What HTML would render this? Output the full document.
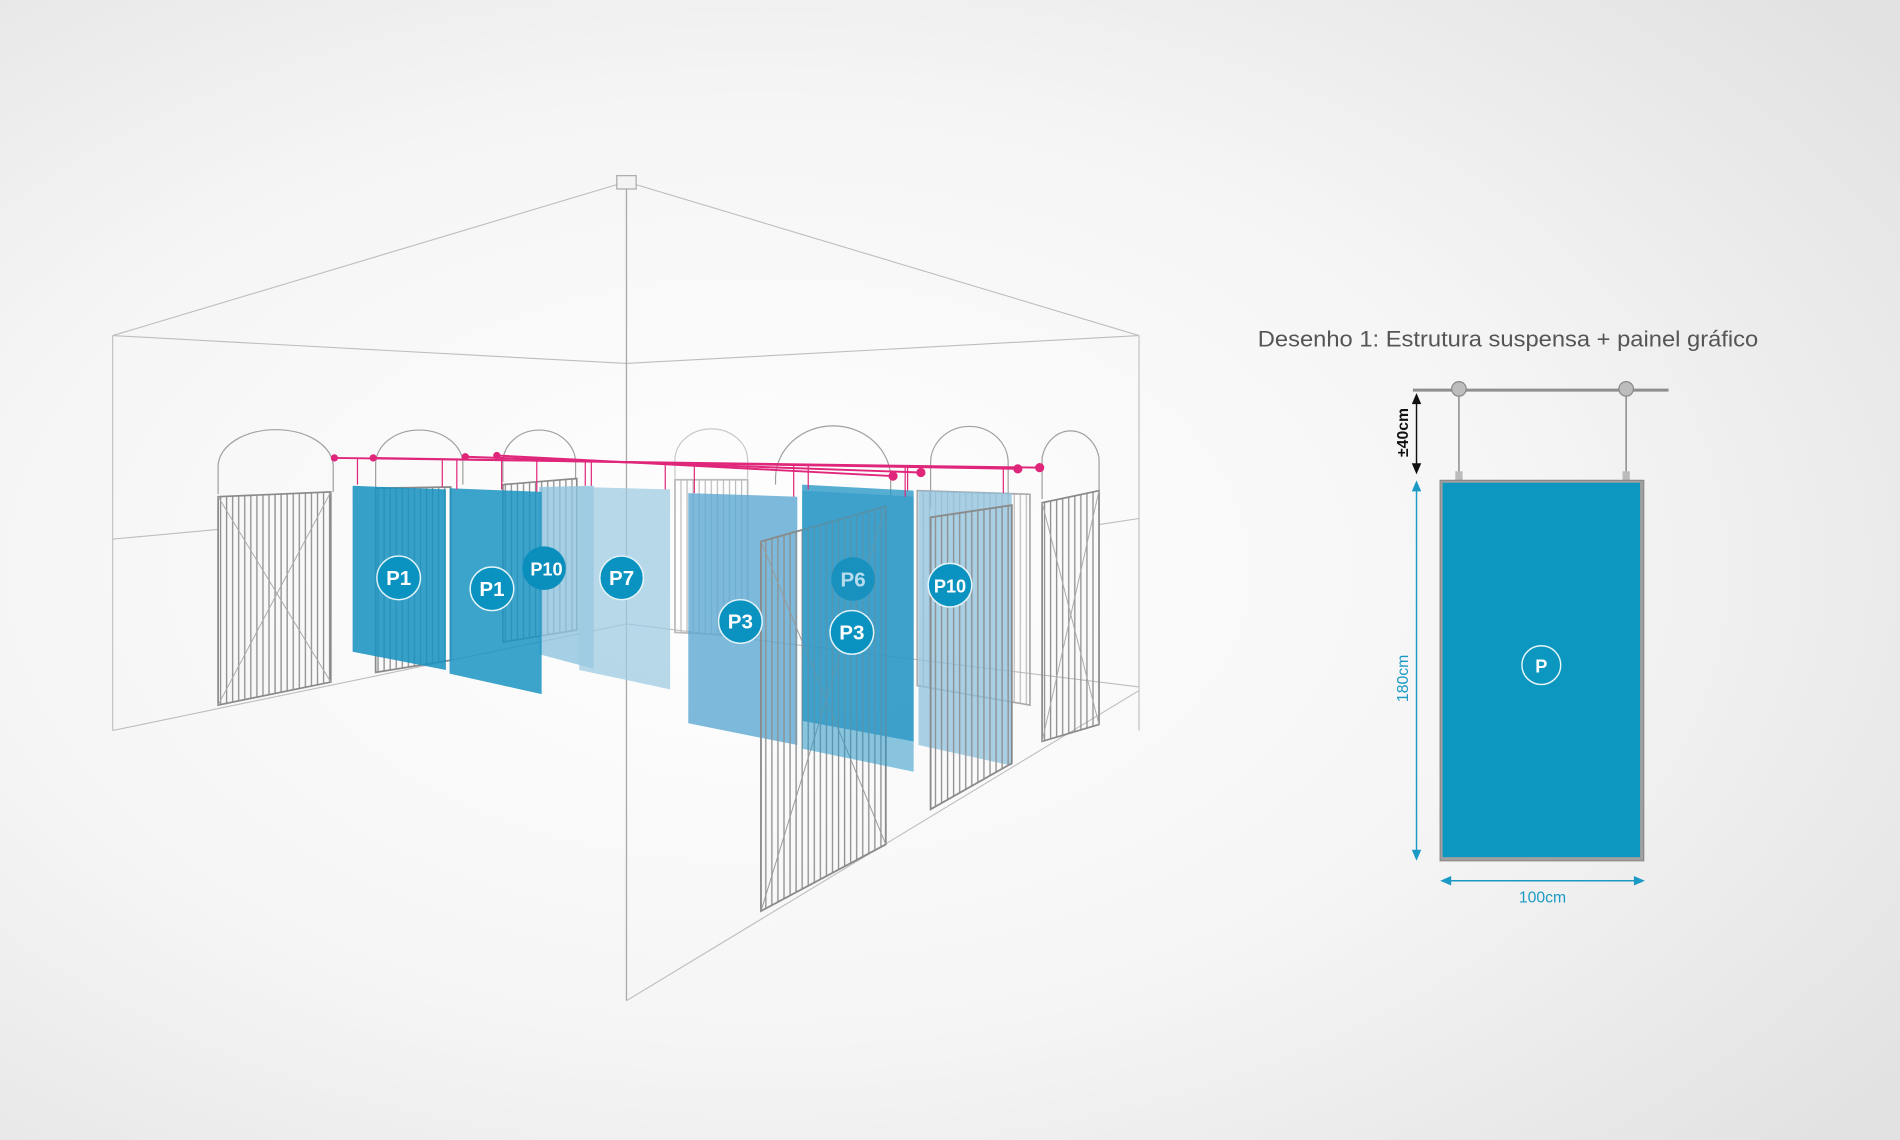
<!DOCTYPE html>
<html><head><meta charset="utf-8">
<style>
html,body{margin:0;padding:0;width:1900px;height:1140px;overflow:hidden;background:#eaeaea;}
svg{display:block}
</style></head><body>
<svg width="1900" height="1140" viewBox="0 0 1568 941" preserveAspectRatio="none" xmlns="http://www.w3.org/2000/svg" font-family="'Liberation Sans', sans-serif">
<defs>
<radialGradient id="bg" cx="0.4" cy="0.5" r="0.75">
<stop offset="0" stop-color="#ffffff"/><stop offset="0.55" stop-color="#f5f5f5"/><stop offset="1" stop-color="#e2e2e2"/>
</radialGradient>
<pattern id="bars" width="5" height="10" patternUnits="userSpaceOnUse">
<rect width="5" height="10" fill="none"/><line x1="2" y1="0" x2="2" y2="10" stroke="#8f8f8f" stroke-width="1.1"/>
</pattern>
<pattern id="barsL" width="5" height="10" patternUnits="userSpaceOnUse">
<line x1="2" y1="0" x2="2" y2="10" stroke="#bbbbbb" stroke-width="1"/>
</pattern>
</defs>
<rect width="1568" height="941" fill="url(#bg)"/>

<!-- room -->
<g stroke="#bdbdbd" stroke-width="0.9" fill="none">
<line x1="517" y1="150" x2="93" y2="277"/>
<line x1="517" y1="150" x2="940" y2="277"/>
<line x1="93" y1="277" x2="517" y2="300"/>
<line x1="517" y1="300" x2="940" y2="277"/>
<line x1="93" y1="277" x2="93" y2="603"/>
<line x1="940" y1="277" x2="940" y2="603"/>
<line x1="93" y1="603" x2="517" y2="515"/>
<line x1="517" y1="515" x2="940" y2="567"/>
<line x1="93" y1="445" x2="180" y2="437"/>
<line x1="517" y1="826" x2="940" y2="570"/>
<line x1="907" y1="433" x2="940" y2="428"/>
</g>
<line x1="517" y1="152" x2="517" y2="826" stroke="#aaaaaa" stroke-width="1.1"/>
<rect x="509" y="145" width="16" height="11" fill="#f3f3f3" stroke="#aaa" stroke-width="1"/>

<!-- arches -->
<g stroke="#a0a0a0" stroke-width="1" fill="none">
<path d="M180 408 L180 385 A47 30 0 0 1 275 385 L275 406"/>
<path d="M310 402 L310 383 A36 28 0 0 1 382 383 L382 400"/>
<path d="M415 398 L415 382 A30 27 0 0 1 475 382 L475 396"/>
<path d="M557 395 L557 380 A30 26 0 0 1 617 380 L617 395" stroke="#c8c8c8"/>
<path d="M640 400 L640 395 A47 43 0 0 1 735 395 L735 410"/>
<path d="M768 420 L768 382 A32 30 0 0 1 832 382 L832 410"/>
<path d="M860 412 L860 378 A24 28 0 0 1 907 378 L907 405"/>
</g>

<!-- back gates -->
<g stroke="#8a8a8a" stroke-width="1.4">
<polygon points="180,410 273,406 273,563 180,582" fill="url(#bars)"/>
<polygon points="310,403 372,402 372,545 310,555" fill="url(#bars)"/>
<polygon points="415,400 476,395 476,520 415,530" fill="url(#bars)"/>
<polygon points="557,396 617,396 617,525 557,522" fill="url(#barsL)" stroke="#bbb"/>
<polygon points="757,405 850,408 850,582 757,566" fill="url(#barsL)" stroke="#aaa"/>
<polygon points="860,415 907,405 907,598 860,612" fill="url(#bars)"/>
</g>
<g stroke="#aaa" stroke-width="0.8">
<line x1="180" y1="410" x2="273" y2="563"/><line x1="273" y1="406" x2="180" y2="582"/>
<line x1="860" y1="415" x2="907" y2="598"/><line x1="907" y1="405" x2="860" y2="612"/>
</g>

<!-- panels -->
<g>
<polygon points="445,402 490,401 490,552 445,540" fill="#8fc3dd" opacity="0.8"/>
<polygon points="478,402 553,404 553,569 478,553" fill="#9ecbe2" opacity="0.75"/>
<polygon points="291,401 368,404 368,553 291,538" fill="#1a93c2" opacity="0.88"/>
<polygon points="371,403 447,406 447,573 371,556" fill="#1a93c2" opacity="0.85"/>
<polygon points="758,405 835,407 835,632 758,615" fill="#8cc0dc" opacity="0.75"/>
<polygon points="662,400 754,405 754,612 662,595" fill="#2a98c6" opacity="0.8"/>
<polygon points="568,407 658,410 658,615 568,597" fill="#5fa9d2" opacity="0.82"/>
</g>

<!-- front gates -->
<g stroke="#8a8a8a" stroke-width="1.5">
<polygon points="628,447 731,418 731,697 628,752" fill="url(#bars)"/>
<polygon points="768,427 835,417 835,630 768,668" fill="url(#bars)"/>
</g>
<g stroke="#999" stroke-width="0.8">
<line x1="628" y1="447" x2="731" y2="697"/><line x1="731" y1="418" x2="628" y2="752"/>
</g>
<polygon points="662,405 754,410 754,637 662,618" fill="#2a98c6" opacity="0.55"/>

<!-- pink rails -->
<g stroke="#e0267a" stroke-width="1.6" fill="#e0267a">
<line x1="276" y1="378" x2="858" y2="386"/>
<line x1="308" y1="378" x2="840" y2="387"/>
<line x1="384" y1="377" x2="760" y2="390"/>
<line x1="410" y1="376" x2="737" y2="393"/>
<circle cx="276" cy="378" r="2.2"/><circle cx="308" cy="378" r="2.2"/>
<circle cx="384" cy="377" r="2.2"/><circle cx="410" cy="376" r="2.2"/>
<circle cx="858" cy="386" r="3"/><circle cx="840" cy="387" r="3"/>
<circle cx="760" cy="390" r="3"/><circle cx="737" cy="393" r="3"/>
</g>
<g stroke="#e0267a" stroke-width="1">
<line x1="295" y1="379" x2="295" y2="400"/><line x1="365" y1="380" x2="365" y2="402"/>
<line x1="377" y1="380" x2="377" y2="404"/><line x1="414" y1="378" x2="414" y2="404"/>
<line x1="443" y1="380" x2="443" y2="406"/><line x1="483" y1="381" x2="483" y2="401"/>
<line x1="488" y1="381" x2="488" y2="401"/><line x1="549" y1="382" x2="549" y2="404"/>
<line x1="573" y1="383" x2="573" y2="407"/><line x1="655" y1="384" x2="655" y2="410"/>
<line x1="667" y1="384" x2="667" y2="404"/><line x1="747" y1="386" x2="747" y2="410"/>
<line x1="749" y1="386" x2="749" y2="405"/><line x1="828" y1="387" x2="828" y2="407"/>
</g>

<!-- labels -->
<g font-family="'Liberation Sans', sans-serif" font-weight="bold" font-size="17" fill="#fff" text-anchor="middle">
<g stroke="#e6f4fa" stroke-width="1.2"><circle cx="329" cy="477" r="18" fill="#0a93c0"/><circle cx="406" cy="486" r="18" fill="#0a93c0"/>
<circle cx="513" cy="477" r="18" fill="#0a93c0"/><circle cx="611" cy="513" r="18" fill="#0a93c0"/>
<circle cx="703" cy="522" r="18" fill="#0a93c0"/><circle cx="784" cy="483" r="18" fill="#0a93c0"/></g>
<circle cx="449" cy="469" r="18" fill="#0a8fbd"/>
<circle cx="704" cy="478" r="18" fill="#1891be"/>
<text x="329" y="483">P1</text><text x="406" y="492">P1</text>
<text x="451" y="475" font-size="15">P10</text><text x="513" y="483">P7</text>
<text x="611" y="519">P3</text><text x="704" y="484" fill="#b7dced">P6</text>
<text x="703" y="528">P3</text><text x="784" y="489" font-size="15">P10</text>
</g>

<!-- right drawing -->
<text x="1038" y="286" font-size="18.5" fill="#555" textLength="413" lengthAdjust="spacingAndGlyphs">Desenho 1: Estrutura suspensa + painel gráfico</text>
<line x1="1166" y1="322" x2="1377" y2="322" stroke="#8f8f8f" stroke-width="2.5"/>
<g fill="#bdbdbd" stroke="#888" stroke-width="1">
<circle cx="1204" cy="321" r="6"/><circle cx="1342" cy="321" r="6"/>
</g>
<g stroke="#888" stroke-width="1.2">
<line x1="1204" y1="327" x2="1204" y2="394"/><line x1="1342" y1="327" x2="1342" y2="394"/>
</g>
<rect x="1201" y="389" width="6" height="8" fill="#bbb"/><rect x="1339" y="389" width="6" height="8" fill="#bbb"/>
<rect x="1188.5" y="396.5" width="168" height="314" fill="#a0a0a0" stroke="#8a8a8a" stroke-width="1"/>
<rect x="1190.5" y="398.5" width="163" height="309" fill="#0b97c0"/>
<circle cx="1272" cy="549" r="16" fill="none" stroke="#e8f4f8" stroke-width="1.2"/>
<text x="1272" y="555" font-size="15" fill="#fff" text-anchor="middle" font-weight="bold">P</text>

<g stroke="#111" stroke-width="1.2" fill="#111">
<line x1="1169" y1="330" x2="1169" y2="386"/>
<polygon points="1169,326 1166,333 1172,333"/><polygon points="1169,390 1166,383 1172,383"/>
</g>
<text transform="translate(1162,357) rotate(-90)" font-size="13" fill="#111" text-anchor="middle" font-weight="bold">±40cm</text>
<g stroke="#1a9ac4" stroke-width="1.2" fill="#1a9ac4">
<line x1="1169" y1="402" x2="1169" y2="705"/>
<polygon points="1169,398 1166,405 1172,405"/><polygon points="1169,709 1166,702 1172,702"/>
<line x1="1194" y1="727" x2="1352" y2="727"/>
<polygon points="1190,727 1197,724 1197,730"/><polygon points="1356,727 1349,724 1349,730"/>
</g>
<text transform="translate(1162,560) rotate(-90)" font-size="13" fill="#1a9ac4" text-anchor="middle">180cm</text>
<text x="1273" y="745" font-size="13" fill="#1a9ac4" text-anchor="middle">100cm</text>
</svg>
</body></html>
